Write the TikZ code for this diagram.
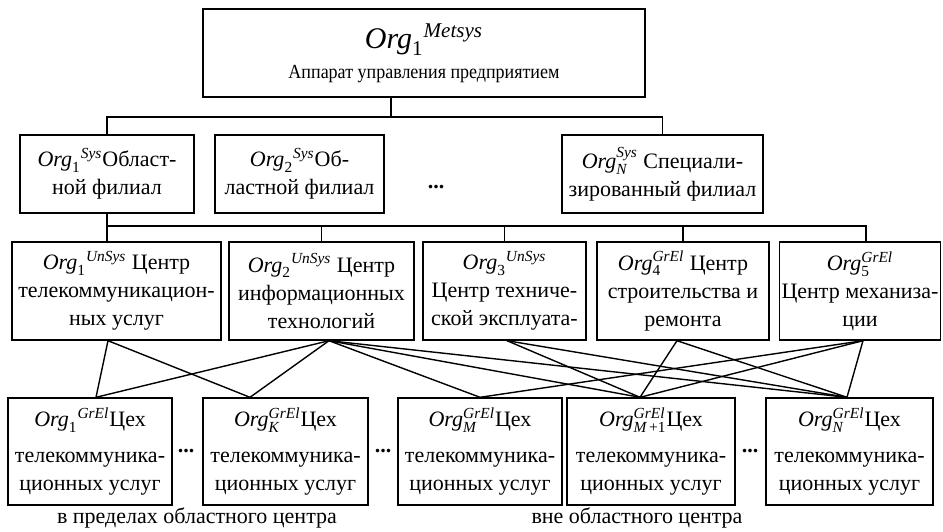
\documentclass[tikz,border=0pt]{standalone}
\usepackage{amsmath}
\usepackage{fontspec}
\setmainfont{Liberation Serif}
\usepackage{tikz}
\usetikzlibrary{positioning}

\newcommand{\org}[2]{$\textit{Org}_{#1}^{#2}$}
\newcommand{\orgx}[2]{${\textit{Org}_{#1}}^{#2}$}

\begin{document}
\begin{tikzpicture}[
    x=0.5pt,
    y=-0.5pt,
    box/.style={
        rectangle,
        draw,
        line width=0.7pt,
        align=center,
        inner sep=1pt,
        font=\fontsize{11}{14}\selectfont
    },
    unit/.style={box, minimum height=39pt},
    dept/.style={box, minimum height=49pt},
    shop/.style={box, minimum height=53.5pt},
    dots/.style={font=\fontsize{11}{14}\selectfont\bfseries},
    note/.style={font=\fontsize{11}{14}\selectfont},
    line/.style={
        draw,
        line width=0.7pt
    }
]
\useasboundingbox (0,0) rectangle (943,531);

% Nodes
\node [box, minimum width=221pt, minimum height=44pt] (top) at (424,53)
    {{\fontsize{15}{17}\selectfont\orgx{\text{1}}{\textit{Metsys}}}\\[1pt]
     {\fontsize{10}{12}\selectfont\addfontfeatures{FakeStretch=0.9}Аппарат управления предприятием}};

\node [unit, minimum width=87pt] (s1) at (107,174) {\orgx{\text{1}}{\textit{Sys}}Област-\\ной филиал};
\node [unit, minimum width=84.5pt] (s2) at (299.5,174) {\orgx{\text{2}}{\textit{Sys}}Об-\\ластной филиал};
\node [dots] (sdots) at (436,187) {...};
\node [unit, minimum width=100.5pt] (s3) at (662.5,174) {\org{\textit{N}}{\textit{Sys}} Специали-\\зированный филиал};

\node [dept, minimum width=104.5pt] (u1) at (116.5,291) {\orgx{\text{1}}{\textit{UnSys}} Центр\\телекоммуникацион-\\ных услуг};
\node [dept, minimum width=92.5pt] (u2) at (321.5,291) {\orgx{\text{2}}{\textit{UnSys}} Центр\\информационных\\технологий};
\node [dept, minimum width=81.5pt] (u3) at (504.5,291) {\orgx{\text{3}}{\textit{UnSys}}\\Центр техниче-\\ской эксплуата-};
\node [dept, minimum width=86pt] (u4) at (683,291) {\org{\text{4}}{\textit{GrEl}} Центр\\строительства и\\ремонта};
\node [dept, minimum width=80pt] (u5) at (860,291) {\org{\text{5}}{\textit{GrEl}}\\Центр механиза-\\ции};

\node [shop, minimum width=82pt] (g1) at (90,451.5) {\orgx{\text{1}}{\textit{GrEl}}Цех\\[4pt]телекоммуника-\\ционных услуг};
\node [dots] (gdots1) at (186,451) {...};
\node [shop, minimum width=82.5pt] (g2) at (285.5,451.5) {\org{\textit{K}}{\textit{GrEl}}Цех\\[4pt]телекоммуника-\\ционных услуг};
\node [dots] (gdots2) at (383,451) {...};
\node [shop, minimum width=82pt] (g3) at (480,451.5) {\org{\textit{M}}{\textit{GrEl}}Цех\\[4pt]телекоммуника-\\ционных услуг};
\node [shop, minimum width=84pt] (g4) at (651,451.5) {\org{\textit{M}\text{\,+1}}{\textit{GrEl}}Цех\\[4pt]телекоммуника-\\ционных услуг};
\node [dots] (gdots3) at (750,451) {...};
\node [shop, minimum width=83.5pt] (g5) at (849.5,451.5) {\org{\textit{N}}{\textit{GrEl}}Цех\\[4pt]телекоммуника-\\ционных услуг};

\node [note] (inside) at (197,518) {в пределах областного центра};
\node [note] (outside) at (637,518) {вне областного центра};

% Edges
\coordinate (j1) at (391,117);
\path [line] (j1 |- top.south) -- (j1);
\path [line] (s1.north) |- (j1) -| (s3.north);

\coordinate (j2) at (107,226);
\path [line] (s1.south) -- (s1.south |- u1.north);
\path [line] (j2) -| ([xshift=3pt]u5.north);
\foreach \n in {2,3,4}
    \path [line] (j2 -| u\n.north) -- (u\n.north);

\path [line] ([xshift=-4.25pt]u1.south) -- ([xshift=3pt]g1.north);
\path [line] ([xshift=-4.25pt]u1.south) -- ([xshift=-17.75pt]g2.north);
\path [line] ([xshift=3.75pt]u2.south) -- ([xshift=3pt]g1.north);
\path [line] ([xshift=3.75pt]u2.south) -- ([xshift=-17.75pt]g2.north);
\path [line] ([xshift=3.75pt]u2.south) -- (g3.north);
\path [line] ([xshift=3.75pt]u2.south) -- ([xshift=-5.5pt]g4.north);
\path [line] ([xshift=3.75pt]u2.south) -- ([xshift=-1.25pt]g5.north);
\path [line] ([xshift=1.25pt]u3.south) -- ([xshift=-5.5pt]g4.north);
\path [line] ([xshift=1.25pt]u3.south) -- ([xshift=-1.25pt]g5.north);
\path [line] ([xshift=-3pt]u4.south) -- ([xshift=-5.5pt]g4.north);
\path [line] ([xshift=-3pt]u4.south) -- ([xshift=-1.25pt]g5.north);
\path [line] ([xshift=1.5pt]u5.south) -- (g3.north);
\path [line] ([xshift=1.5pt]u5.south) -- ([xshift=-5.5pt]g4.north);
\path [line] ([xshift=1.5pt]u5.south) -- ([xshift=-1.25pt]g5.north);

\end{tikzpicture}
\end{document}
